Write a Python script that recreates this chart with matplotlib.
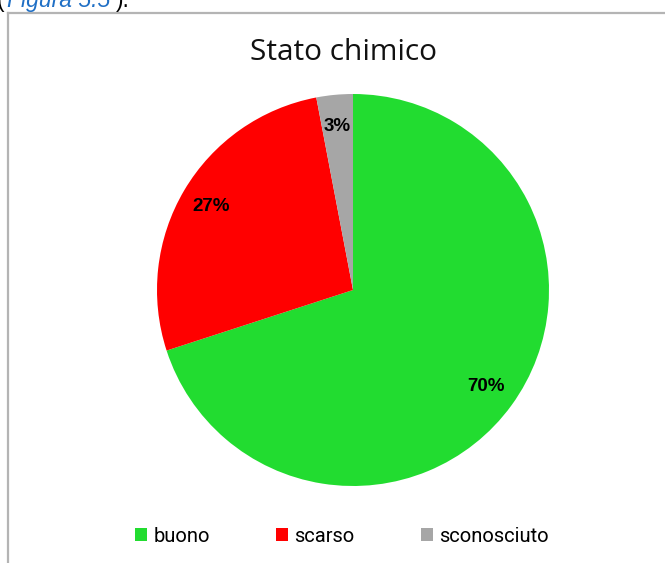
import matplotlib
matplotlib.use("Agg")
import matplotlib.pyplot as plt
from matplotlib.lines import Line2D
from matplotlib.patches import Patch

categories = ["buono", "scarso", "sconosciuto"]
values = [70, 27, 3]
colors = ["#22dc30", "#ff0000", "#a6a6a6"]
title = "Stato chimico"

W, H = 665, 563
fig = plt.figure(figsize=(W / 100, H / 100), dpi=100)
fig.patch.set_facecolor("white")

# text of the page above the chart (cut at the top)
base = 1 - 7 / H
fig.text(-3 / W, base, "(", fontsize=16.5, color="black", family="Liberation Sans", va="baseline")
fig.text(7 / W, base, "Figura 5.5", fontsize=16.5, color="#1f6fc5", style="italic",
         family="Liberation Sans", va="baseline")
fig.text(116 / W, base, ").", fontsize=16.5, color="black", family="Liberation Sans", va="baseline")

# chart frame
fig.add_artist(Line2D([8 / W, 8 / W], [0, 1 - 13 / H], transform=fig.transFigure,
                      color="#b4b4b4", lw=1.6))
fig.add_artist(Line2D([8 / W, 1], [1 - 13 / H, 1 - 13 / H], transform=fig.transFigure,
                      color="#b4b4b4", lw=1.6))

cx, cy, r = 353, 290, 196
ax = fig.add_axes([(cx - r) / W, (H - cy - r) / H, 2 * r / W, 2 * r / H])
wedges, texts, autotexts = ax.pie(
    values, colors=colors, startangle=90, counterclock=False, radius=1,
    autopct=lambda p: f"{p:.0f}%", pctdistance=0.84,
    textprops=dict(fontsize=13.5, fontweight="bold", color="black", family="Liberation Sans"),
)
ax.set_xlim(-1, 1)
ax.set_ylim(-1, 1)
ax.set_aspect("equal")
ax.axis("off")

fig.text(343 / W, 1 - 53 / H, title, fontsize=21.5, ha="center", va="center",
         family="Open Sans", color="#111111")

handles = [Patch(facecolor=c, edgecolor="none") for c in colors]
fig.legend(handles, categories, loc="center", bbox_to_anchor=(342 / W, 1 - 536 / H),
           ncol=3, frameon=False, handlelength=0.6, handleheight=0.6,
           handletextpad=0.3, columnspacing=3.3,
           prop=dict(family="Roboto", size=14.5))

fig.savefig("out.png", dpi=100)
